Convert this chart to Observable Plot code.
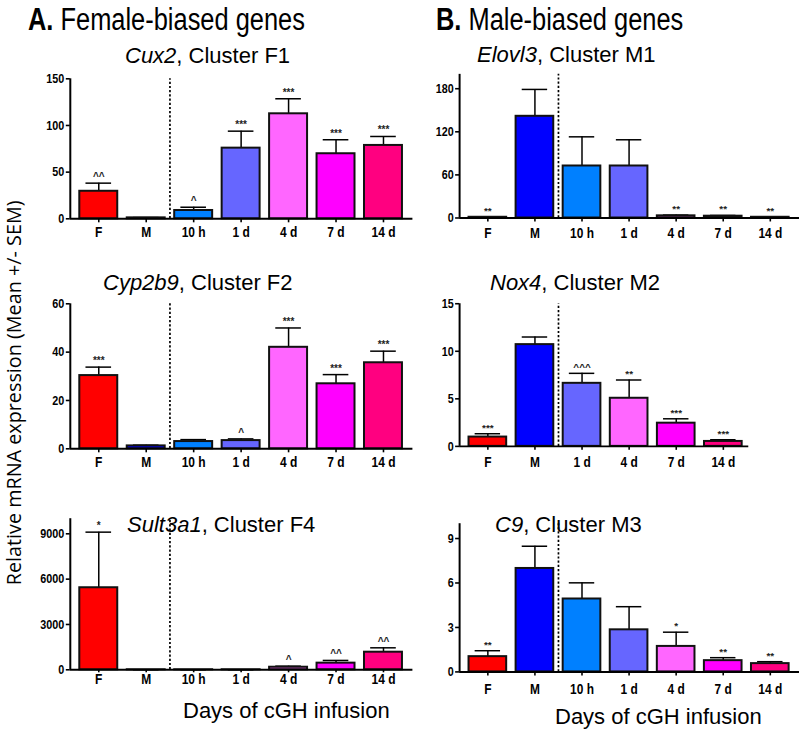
<!DOCTYPE html>
<html><head><meta charset="utf-8">
<script src="https://cdn.jsdelivr.net/npm/d3@7"></script>
<script src="https://cdn.jsdelivr.net/npm/@observablehq/plot@0.6"></script>
<style>
body{margin:0;background:#fff;}
#root{position:relative;width:800px;height:730px;overflow:hidden;font-family:"Liberation Sans",Arial,sans-serif;color:#000;}
.abs{position:absolute;white-space:nowrap;line-height:1;}
.head{font-family:"Liberation Sans",Arial,sans-serif;font-size:31px;transform:scaleX(0.82);transform-origin:0 0;}
.ttl{font-size:22px;}
.days{font-size:22px;}
.ylab{font-family:"Open Sans","Noto Sans",sans-serif;font-size:19.8px;width:520px;text-align:center;transform:rotate(-90deg);transform-origin:50% 50%;}
.panel{position:absolute;}
</style></head><body><div id="root"></div>
<script>
// ---- data ----
const groupColors = {"F":"#ff0000","M":"#0000ff","10 h":"#0080ff","1 d":"#6666ff","4 d":"#ff66ff","7 d":"#ff00ff","14 d":"#ff0080"};

const cux2Labels = ["F","M","10 h","1 d","4 d","7 d","14 d"];
const cux2Mean   = [29.5, 1.0, 8.9, 75.7, 112.5, 69.7, 78.6];
const cux2Sem    = [8.7, 0.3, 3.5, 18.2, 16.1, 15.0, 9.6];
const cux2Sig    = ["^^","","^","***","***","***","***"];
const cux2Ticks  = [0, 50, 100, 150];

const cyp2b9Labels = ["F","M","10 h","1 d","4 d","7 d","14 d"];
const cyp2b9Mean   = [30.3, 1.2, 3.0, 3.4, 42.0, 26.9, 35.6];
const cyp2b9Sem    = [3.5, 0.3, 0.8, 0.7, 8.0, 3.8, 4.8];
const cyp2b9Sig    = ["***","","","^","***","***","***"];
const cyp2b9Ticks  = [0, 20, 40, 60];

const sult3a1Labels = ["F","M","10 h","1 d","4 d","7 d","14 d"];
const sult3a1Mean   = [5430, 3, 3, 3, 170, 440, 1165];
const sult3a1Sem    = [3680, 0, 0, 0, 70, 180, 290];
const sult3a1Sig    = ["*","","","","^","^^","^^"];
const sult3a1Ticks  = [0, 3000, 6000, 9000];

const elovl3Labels = ["F","M","10 h","1 d","4 d","7 d","14 d"];
const elovl3Mean   = [1.0, 141.6, 72.4, 72.4, 3.0, 2.5, 1.0];
const elovl3Sem    = [0.3, 37.4, 40.6, 36.5, 1.0, 1.0, 0.3];
const elovl3Sig    = ["**","","","","**","**","**"];
const elovl3Ticks  = [0, 60, 120, 180];

const nox4Labels = ["F","M","1 d","4 d","7 d","14 d"];
const nox4Mean   = [0.98, 10.7, 6.63, 5.06, 2.44, 0.52];
const nox4Sem    = [0.35, 0.8, 1.05, 1.92, 0.46, 0.18];
const nox4Sig    = ["***","","^^^","**","***","***"];
const nox4Ticks  = [0, 5, 10, 15];

const c9Labels = ["F","M","10 h","1 d","4 d","7 d","14 d"];
const c9Mean   = [1.03, 6.98, 4.92, 2.84, 1.72, 0.76, 0.56];
const c9Sem    = [0.4, 1.5, 1.09, 1.56, 0.96, 0.2, 0.13];
const c9Sig    = ["**","","","","*","**","**"];
const c9Ticks  = [0, 3, 6, 9];

// ---- drawing ----
const root = document.getElementById("root");
const tickFont = "'Liberation Sans',Arial,sans-serif";

function condense(t, size) {
  const tr = t.getAttribute("transform") || "";
  t.setAttribute("transform", tr + " scale(0.8,1)");
  t.style.fontSize = size + "px";
  t.style.fontWeight = "bold";
}

function panel(o) {
  const data = o.labels.map((l, i) => ({i, label: l, mean: o.means[i], top: o.means[i] + o.sems[i], sig: o.sig[i]}));
  const xMin = -0.6;
  const chart = Plot.plot({
    width: o.width, height: o.height,
    marginLeft: o.mL, marginRight: o.mR, marginTop: o.mT, marginBottom: o.mB,
    x: {domain: [xMin, o.xMax], axis: null},
    y: {domain: [0, o.yMax], axis: null},
    style: {background: "transparent", overflow: "visible", fontFamily: tickFont, fontWeight: "bold", color: "#000"},
    marks: [
      Plot.ruleX([1.5], {y1: 0, y2: o.yMax, stroke: "#000", strokeWidth: 1.7, strokeDasharray: "2.2,2"}),
      Plot.ruleX(data, {x: "i", y1: "mean", y2: "top", stroke: "#000", strokeWidth: 1.5}),
      Plot.ruleY(data, {y: "top", x1: d => d.i - 0.27, x2: d => d.i + 0.27, stroke: "#000", strokeWidth: 1.5}),
      Plot.rect(data, {x1: d => d.i - 0.4, x2: d => d.i + 0.4, y1: 0, y2: "mean", fill: d => groupColors[d.label], stroke: "#111", strokeWidth: 2}),
      Plot.text(data, {x: "i", y: "top", text: "sig", dy: -3, lineAnchor: "bottom", fontSize: 10, fontWeight: "bold", fill: "#222"}),
      Plot.axisY({ticks: o.ticks, label: null, tickSize: 4, tickPadding: 2, strokeWidth: 1.6, tickFormat: d => String(d)}),
      Plot.axisX({ticks: data.map(d => d.i), label: null, tickFormat: i => o.labels[i], tickSize: o.tickSize ?? 4, tickPadding: o.tickPad ?? 4, strokeWidth: 1.6}),
      Plot.ruleX([xMin], {y1: 0, y2: o.yMax, stroke: "#000", strokeWidth: 2}),
      Plot.ruleY([0], {x1: xMin, x2: o.xMax, stroke: "#000", strokeWidth: 2})
    ]
  });
  // bold, condensed axis tick labels
  const xSet = new Set(o.labels);
  const ySet = new Set(o.ticks.map(String));
  chart.querySelectorAll("text").forEach(t => {
    const s = t.textContent.trim();
    if (xSet.has(s)) condense(t, 15);
    else if (ySet.has(s)) condense(t, 13.5);
  });
  const wrap = document.createElement("div");
  wrap.className = "panel";
  wrap.style.left = o.left + "px";
  wrap.style.top = o.top + "px";
  wrap.appendChild(chart);
  root.appendChild(wrap);
}

panel({labels: cux2Labels, means: cux2Mean, sems: cux2Sem, sig: cux2Sig, ticks: cux2Ticks, yMax: 150,
  left: 0, top: 65, width: 420, height: 180, mL: 69.8, mR: 7.6, mT: 13.3, mB: 26.7, xMax: 6.62});
panel({labels: cyp2b9Labels, means: cyp2b9Mean, sems: cyp2b9Sem, sig: cyp2b9Sig, ticks: cyp2b9Ticks, yMax: 60,
  left: 0, top: 290, width: 420, height: 185, mL: 69.8, mR: 7.6, mT: 13.3, mB: 26.7, xMax: 6.62});
panel({labels: sult3a1Labels, means: sult3a1Mean, sems: sult3a1Sem, sig: sult3a1Sig, ticks: sult3a1Ticks, yMax: 10000,
  left: 0, top: 505, width: 420, height: 185, mL: 69.8, mR: 7.6, mT: 13.2, mB: 20.7, xMax: 6.62, tickSize: 3, tickPad: 1});
panel({labels: elovl3Labels, means: elovl3Mean, sems: elovl3Sem, sig: elovl3Sig, ticks: elovl3Ticks, yMax: 200,
  left: 420, top: 65, width: 382, height: 180, mL: 39.3, mR: 1, mT: 8.9, mB: 26.7, xMax: 6.62, tickPad: 5});
panel({labels: nox4Labels, means: nox4Mean, sems: nox4Sem, sig: nox4Sig, ticks: nox4Ticks, yMax: 15,
  left: 420, top: 290, width: 382, height: 185, mL: 39.3, mR: 52, mT: 13.3, mB: 28.3, xMax: 5.54, tickPad: 6});
panel({labels: c9Labels, means: c9Mean, sems: c9Sem, sig: c9Sig, ticks: c9Ticks, yMax: 10,
  left: 420, top: 505, width: 382, height: 200, mL: 39.3, mR: 1, mT: 18.3, mB: 32.7, xMax: 6.62, tickSize: 4, tickPad: 8});

// ---- texts ----
function addText(cls, html, left, top) {
  const d = document.createElement("div");
  d.className = "abs " + cls;
  d.innerHTML = html;
  d.style.left = left + "px";
  d.style.top = top + "px";
  root.appendChild(d);
  return d;
}
addText("head", "<b>A.</b> Female-biased genes", 28, 4);
addText("head", "<b>B.</b> Male-biased genes", 436, 4);
addText("ttl", "<i>Cux2</i>, Cluster F1", 125, 45.4);
addText("ttl", "<i>Cyp2b9</i>, Cluster F2", 103, 272.4);
addText("ttl", "<i>Sult3a1</i>, Cluster F4", 127, 514.4);
addText("ttl", "<i>Elovl3</i>, Cluster M1", 477, 44);
addText("ttl", "<i>Nox4</i>, Cluster M2", 490, 272.4);
addText("ttl", "<i>C9</i>, Cluster M3", 495, 514.4);
addText("days", "Days of cGH infusion", 183, 700.4);
addText("days", "Days of cGH infusion", 555, 706);
addText("ylab", "Relative mRNA expression (Mean +/- SEM)", 14 - 260, 394 - 11);
</script>
</body></html>
